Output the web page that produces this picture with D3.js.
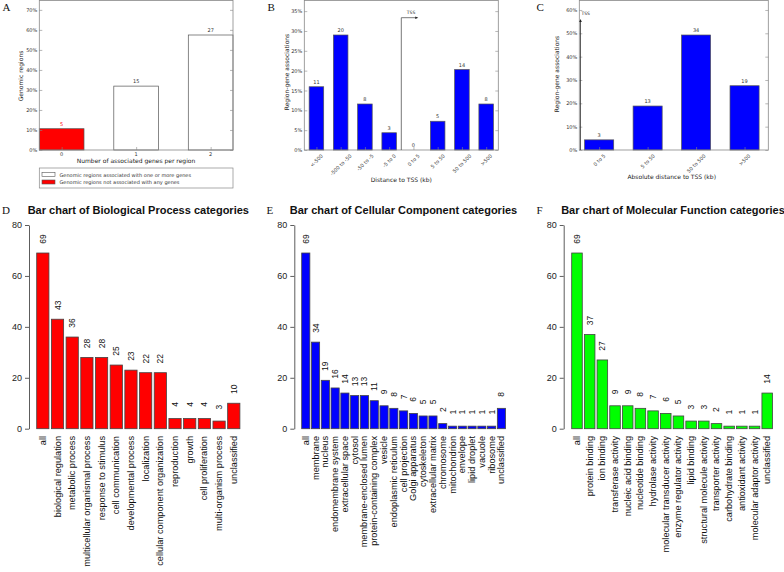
<!DOCTYPE html>
<html>
<head>
<meta charset="utf-8">
<script src="https://cdn.jsdelivr.net/npm/d3@7"></script>
<style>
  html, body { margin: 0; padding: 0; background: #fff; }
  svg { display: block; }
</style>
</head>
<body>
<script>
// ---------------- DATA ----------------
// Panel A
const aCategories = ["0", "1", "2"];
const aCounts = [5, 15, 27];
const aTicks = [0, 10, 20, 30, 40, 50, 60, 70];
const aLegend = ["Genomic regions associated with one or more genes",
                 "Genomic regions not associated with any genes"];
// Panel B
const bCategories = ["<-500", "-500 to -50", "-50 to -5", "-5 to 0", "0 to 5", "5 to 50", "50 to 500", ">500"];
const bCounts = [11, 20, 8, 3, 0, 5, 14, 8];
const bTicks = [0, 5, 10, 15, 20, 25, 30, 35];
// Panel C
const cCategories = ["0 to 5", "5 to 50", "50 to 500", ">500"];
const cCounts = [3, 13, 34, 19];
const cTicks = [0, 10, 20, 30, 40, 50, 60];
// Panel D
const bpCategories = ["all", "biological regulation", "metabolic process", "multicellular organismal process",
  "response to stimulus", "cell communication", "developmental process", "localization",
  "cellular component organization", "reproduction", "growth", "cell proliferation",
  "multi-organism process", "unclassified"];
const bpValues = [69, 43, 36, 28, 28, 25, 23, 22, 22, 4, 4, 4, 3, 10];
// Panel E
const ccCategories = ["all", "membrane", "nucleus", "endomembrane system", "extracellular space", "cytosol",
  "membrane-enclosed lumen", "protein-containing complex", "vesicle", "endoplasmic reticulum",
  "cell projection", "Golgi apparatus", "cytoskeleton", "extracellular matrix", "chromosome",
  "mitochondrion", "envelope", "lipid droplet", "vacuole", "ribosome", "unclassified"];
const ccValues = [69, 34, 19, 16, 14, 13, 13, 11, 9, 8, 7, 6, 5, 5, 2, 1, 1, 1, 1, 1, 8];
// Panel F
const mfCategories = ["all", "protein binding", "ion binding", "transferase activity", "nucleic acid binding",
  "nucleotide binding", "hydrolase activity", "molecular transducer activity", "enzyme regulator activity",
  "lipid binding", "structural molecule activity", "transporter activity", "carbohydrate binding",
  "antioxidant activity", "molecular adaptor activity", "unclassified"];
const mfValues = [69, 37, 27, 9, 9, 8, 7, 6, 5, 3, 3, 2, 1, 1, 1, 14];
const bottomTicks = [0, 20, 40, 60, 80];

// ---------------- DRAW ----------------
const W = 784, H = 572;
const svg = d3.select("body").append("svg").attr("width", W).attr("height", H);
const topFont = "DejaVu Sans, Bitstream Vera Sans, sans-serif";
const botFont = "Liberation Sans, Arial, Helvetica, sans-serif";
const serif = "Liberation Serif, Times New Roman, serif";

function letter(t, x, y) {
  svg.append("text").attr("x", x).attr("y", y).text(t)
    .attr("font-family", serif).attr("font-size", 11).attr("fill", "#111");
}

function drawTop(cfg) {
  const g = svg.append("g");
  const total = d3.sum(cfg.counts);
  const pct = cfg.counts.map(c => c / total * 100);
  const yBottom = 150;
  const x = d3.scaleLinear().domain(cfg.xDomain).range([cfg.left, cfg.right]);
  const y = d3.scaleLinear().domain([0, d3.max(pct) * 1.3]).range([yBottom, 0.5]);
  const bw = x(0.6) - x(0);

  g.selectAll("rect.bar").data(pct).join("rect").attr("class", "bar")
    .attr("x", (d, i) => x(i) - bw / 2).attr("width", bw)
    .attr("y", d => y(d)).attr("height", d => yBottom - y(d))
    .attr("fill", (d, i) => cfg.fill(i)).attr("stroke", "#555").attr("stroke-width", 0.7);

  // value labels
  g.selectAll("text.val").data(cfg.counts).join("text").attr("class", "val")
    .attr("x", (d, i) => x(i)).attr("y", (d, i) => y(pct[i]) - 3)
    .attr("text-anchor", "middle").attr("font-family", topFont).attr("font-size", 5)
    .attr("fill", (d, i) => cfg.labelColor(i)).text(d => d);

  // frame
  g.append("rect").attr("x", cfg.left).attr("y", 0.5)
    .attr("width", cfg.right - cfg.left).attr("height", yBottom - 0.5)
    .attr("fill", "none").attr("stroke", "#888").attr("stroke-width", 0.8);

  // y axis (left labels, inward ticks both sides)
  const yl = g.append("g").attr("transform", `translate(${cfg.left},0)`)
    .call(d3.axisLeft(y).tickValues(cfg.ticks).tickFormat(d => d + "%").tickSize(-3).tickPadding(2));
  const yr = g.append("g").attr("transform", `translate(${cfg.right},0)`)
    .call(d3.axisRight(y).tickValues(cfg.ticks).tickFormat("").tickSize(-3));
  [yl, yr].forEach(a => {
    a.select(".domain").remove();
    a.selectAll("line").attr("stroke", "#888").attr("stroke-width", 0.6);
    a.selectAll("text").attr("font-family", topFont).attr("font-size", 5).attr("fill", "#333");
  });

  // x ticks (inward, bottom)
  const xa = g.append("g").attr("transform", `translate(0,${yBottom})`)
    .call(d3.axisBottom(x).tickValues(d3.range(cfg.cats.length)).tickFormat("").tickSize(-3));
  xa.select(".domain").remove();
  xa.selectAll("line").attr("stroke", "#888").attr("stroke-width", 0.6);

  if (cfg.rotated) {
    cfg.cats.forEach((c, i) => {
      const t = g.append("text").text(c).attr("font-family", topFont).attr("font-size", 5)
        .attr("fill", "#333").attr("text-anchor", "middle").attr("dominant-baseline", "central");
      const L = t.node().getComputedTextLength();
      const cy = yBottom + 3 + (L + 5) * 0.7071 / 2;
      t.attr("transform", `translate(${x(i)},${cy}) rotate(-45)`);
    });
  } else {
    g.selectAll("text.xl").data(cfg.cats).join("text").attr("class", "xl")
      .attr("x", (d, i) => x(i)).attr("y", 156).attr("text-anchor", "middle")
      .attr("font-family", topFont).attr("font-size", 5).attr("fill", "#333").text(d => d);
  }

  // axis titles
  g.append("text").attr("x", cfg.xLabelX).attr("y", cfg.xLabelY).attr("text-anchor", "middle")
    .attr("font-family", topFont).attr("font-size", 6).attr("fill", "#222").text(cfg.xLabel);
  g.append("text").attr("transform", `translate(${cfg.yLabelX},${cfg.yLabelY}) rotate(-90)`)
    .attr("text-anchor", "middle").attr("font-family", topFont).attr("font-size", 6)
    .attr("fill", "#222").text(cfg.yLabel);
  return { g, x, y };
}

// Panel A
const A = drawTop({
  cats: aCategories, counts: aCounts, ticks: aTicks, xDomain: [-0.3, 2.3], left: 39.3, right: 233,
  fill: i => i === 0 ? "#ff0000" : "#ffffff", labelColor: i => i === 0 ? "#ff0000" : "#333",
  rotated: false, xLabel: "Number of associated genes per region", xLabelX: 136, xLabelY: 163,
  yLabel: "Genomic regions", yLabelX: 23, yLabelY: 76
});
// legend A
{
  const lg = svg.append("g");
  lg.append("rect").attr("x", 39.3).attr("y", 168).attr("width", 193.7).attr("height", 20)
    .attr("fill", "#fff").attr("stroke", "#888").attr("stroke-width", 0.7);
  const fills = ["#ffffff", "#ff0000"];
  aLegend.forEach((t, i) => {
    lg.append("rect").attr("x", 42).attr("y", 172.5 + i * 7.5).attr("width", 13).attr("height", 4)
      .attr("fill", fills[i]).attr("stroke", "#555").attr("stroke-width", 0.6);
    lg.append("text").attr("x", 59.5).attr("y", 176.5 + i * 7.5).attr("font-family", topFont)
      .attr("font-size", 5).attr("fill", "#333").text(t);
  });
}

// Panel B
const B = drawTop({
  cats: bCategories, counts: bCounts, ticks: bTicks, xDomain: [-0.5, 7.5], left: 304.3, right: 498.3,
  fill: () => "#0000ff", labelColor: () => "#333", rotated: true,
  xLabel: "Distance to TSS (kb)", xLabelX: 401.3, xLabelY: 182,
  yLabel: "Region-gene associations", yLabelX: 289, yLabelY: 72
});
{
  const x0 = B.x(3.5), x1 = B.x(4.2), yt = 17.7;
  svg.append("path").attr("d", `M${x0},150 V${yt} H${x1 - 2}`).attr("fill", "none")
    .attr("stroke", "#555").attr("stroke-width", 0.8);
  svg.append("path").attr("d", `M${x1},${yt} L${x1 - 3},${yt - 1.3} L${x1 - 3},${yt + 1.3} Z`).attr("fill", "#222");
  svg.append("text").attr("x", x0 + 5.5).attr("y", 14).attr("font-family", topFont).attr("font-size", 4.5)
    .attr("fill", "#222").text("TSS");
}

// Panel C
const C = drawTop({
  cats: cCategories, counts: cCounts, ticks: cTicks, xDomain: [-0.41, 3.49], left: 579.3, right: 768.3,
  fill: () => "#0000ff", labelColor: () => "#333", rotated: true,
  xLabel: "Absolute distance to TSS (kb)", xLabelX: 671.7, xLabelY: 179,
  yLabel: "Region-gene associations", yLabelX: 558.5, yLabelY: 74
});
{
  const x0 = 580.5, yt = 19;
  svg.append("path").attr("d", `M${x0},150 V${yt + 2}`).attr("stroke", "#333").attr("stroke-width", 0.8);
  svg.append("path").attr("d", `M${x0},${yt} L${x0 - 1.3},${yt + 3} L${x0 + 1.3},${yt + 3} Z`).attr("fill", "#222");
  svg.append("text").attr("x", x0 + 1).attr("y", 14.5).attr("font-family", topFont).attr("font-size", 4.5)
    .attr("fill", "#222").text("TSS");
}

letter("A", 2.5, 10.5);
letter("B", 267.5, 10.5);
letter("C", 536.5, 10.5);

// Bottom panels
function drawBottom(cfg) {
  const g = svg.append("g");
  const y = d3.scaleLinear().domain([0, 80]).range([428.7, 225]);
  const x = d3.scaleBand().domain(cfg.cats).range([cfg.r0, cfg.r1]).paddingInner(1 / 6).paddingOuter(0);

  g.selectAll("rect").data(cfg.vals).join("rect")
    .attr("x", (d, i) => x(cfg.cats[i])).attr("width", x.bandwidth())
    .attr("y", d => y(d)).attr("height", d => y(0) - y(d))
    .attr("fill", cfg.fill).attr("stroke", "#444").attr("stroke-width", 0.8);

  // value labels
  cfg.vals.forEach((v, i) => {
    g.append("text").attr("transform", `translate(${x(cfg.cats[i]) + x.bandwidth() / 2},${y(v) - 14}) rotate(-90)`)
      .attr("text-anchor", "middle").attr("dominant-baseline", "central")
      .attr("font-family", botFont).attr("font-size", 8.5).attr("fill", "#111").text(v);
  });

  // category labels
  cfg.cats.forEach((c, i) => {
    g.append("text").attr("transform", `translate(${x(c) + x.bandwidth() / 2},436) rotate(-90)`)
      .attr("text-anchor", "end").attr("dominant-baseline", "central")
      .attr("font-family", botFont).attr("font-size", 9.2).attr("fill", "#111").text(c);
  });

  // y axis
  const ax = g.append("g").attr("transform", `translate(${cfg.axisX},0)`)
    .call(d3.axisLeft(y).tickValues(bottomTicks).tickSize(4).tickSizeOuter(0).tickPadding(3));
  ax.selectAll("line, path").attr("stroke", "#333").attr("stroke-width", 0.8);
  ax.selectAll("text").attr("font-family", botFont).attr("font-size", 9).attr("fill", "#222");

  // title
  g.append("text").attr("x", cfg.titleX).attr("y", 214).attr("text-anchor", "middle")
    .attr("font-family", botFont).attr("font-weight", "bold").attr("font-size", 11)
    .attr("fill", "#111").text(cfg.title);
}

drawBottom({ cats: bpCategories, vals: bpValues, fill: "#ff0000", axisX: 29, r0: 36.7, r1: 239.9,
  titleX: 138.3, title: "Bar chart of Biological Process categories" });
drawBottom({ cats: ccCategories, vals: ccValues, fill: "#0000ff", axisX: 294.3, r0: 301.7, r1: 505.5,
  titleX: 403.5, title: "Bar chart of Cellular Component categories" });
drawBottom({ cats: mfCategories, vals: mfValues, fill: "#00ff00", axisX: 563.7, r0: 571.7, r1: 772.5,
  titleX: 673, title: "Bar chart of Molecular Function categories" });

letter("D", 2, 214);
letter("E", 266.5, 214);
letter("F", 536.5, 214);
</script>
</body>
</html>
